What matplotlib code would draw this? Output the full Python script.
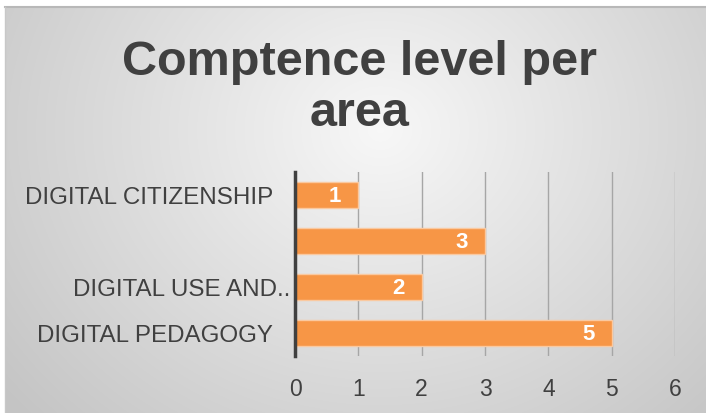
import numpy as np
import matplotlib

matplotlib.use("Agg")
import matplotlib.pyplot as plt
from matplotlib import font_manager
from matplotlib.transforms import ScaledTranslation

# ---------------------------------------------------------------------------
# Data (bottom to top, as matplotlib draws barh)
# ---------------------------------------------------------------------------
CATEGORIES = ["DIGITAL PEDAGOGY", "DIGITAL USE AND..", "", "DIGITAL CITIZENSHIP"]
VALUES = [5, 2, 3, 1]
X_TICKS = [0, 1, 2, 3, 4, 5, 6]
TITLE = "Comptence level per\narea"

W, H, DPI = 706, 413, 100
BAR_COLOR = "#F79646"
TEXT_COLOR = "#404040"


def pick_font(names):
    avail = {f.name for f in font_manager.fontManager.ttflist}
    for n in names:
        if n in avail:
            return n
    return "DejaVu Sans"


title_font = pick_font(["Liberation Sans Narrow", "Liberation Sans", "DejaVu Sans"])
body_font = pick_font(["Liberation Sans", "DejaVu Sans"])
title_size = 41.5 if title_font == "Liberation Sans Narrow" else 35


def main() -> None:
    fig = plt.figure(figsize=(W / DPI, H / DPI), dpi=DPI)
    fig.patch.set_facecolor("white")

    # --- background: radial grey gradient in a bordered frame -------------
    bg = fig.add_axes([0, 0, 1, 1])
    yy, xx = np.mgrid[0:H, 0:W]
    r = np.sqrt(((xx - 380) / 1.15) ** 2 + (yy - 130) ** 2) / 420.0
    r = np.clip(r, 0, 1)
    shade = 0.97 - 0.2 * r
    img = np.dstack([shade, shade, shade])
    bg.imshow(img, extent=(0, W, H, 0), aspect="auto", zorder=0)
    bg.fill_between([0, W], 0, 6.3, color="white", zorder=1)
    bg.fill_betweenx([0, H], 0, 4.3, color="white", zorder=1)
    bg.plot([5, W], [7, 7], color="#b8b8b8", lw=1.5, zorder=2)
    bg.plot([5, 5], [7, H], color="#c8c8c8", lw=1.0, zorder=2)
    bg.set_xlim(0, W)
    bg.set_ylim(H, 0)
    bg.axis("off")

    # --- title ------------------------------------------------------------
    fig.text(360 / W, 1 - 88 / H, TITLE, ha="center", va="center",
             fontsize=title_size, fontweight="bold", color=TEXT_COLOR,
             family=title_font, linespacing=1.17)

    # --- bar chart ---------------------------------------------------------
    ax = fig.add_axes([295 / W, 1 - 356 / H, 380 / W, 184 / H])
    ax.patch.set_alpha(0)
    y = np.arange(len(CATEGORIES))
    bars = ax.barh(y, VALUES, height=0.58, color=BAR_COLOR,
                   edgecolor="#FAC9A0", linewidth=1.0, zorder=3)

    for rect, v in zip(bars, VALUES):
        ax.annotate(str(v), xy=(rect.get_width(), rect.get_y() + rect.get_height() / 2),
                    xytext=(-17, -1), textcoords="offset pixels",
                    ha="right", va="center", color="white", fontsize=16,
                    fontweight="bold", family=body_font, zorder=4)

    ax.set_xlim(0, 6)
    ax.set_ylim(-0.5, 3.5)
    ax.set_xticks(X_TICKS)
    ax.set_yticks(y)
    ax.set_yticklabels(CATEGORIES, fontsize=17.4, color=TEXT_COLOR, family=body_font)
    ax.set_xticklabels([str(t) for t in X_TICKS], fontsize=16.5,
                       color=TEXT_COLOR, family=body_font)
    ax.tick_params(axis="y", length=0, pad=16)
    ax.tick_params(axis="x", length=0, pad=16)

    # the truncated label sits closer to the axis, as in the source chart
    lbl = ax.get_yticklabels()[1]
    lbl.set_transform(lbl.get_transform() + ScaledTranslation(17 / DPI, 0, fig.dpi_scale_trans))

    ax.grid(axis="x", color="#a6a6a6", linewidth=1.0, zorder=1)
    for s in ("top", "right", "bottom"):
        ax.spines[s].set_visible(False)
    ax.spines["left"].set_color("#404040")
    ax.spines["left"].set_linewidth(2.5)
    ax.spines["left"].set_zorder(5)

    fig.savefig("out.png", dpi=DPI)
    plt.close(fig)


if __name__ == "__main__":
    main()
